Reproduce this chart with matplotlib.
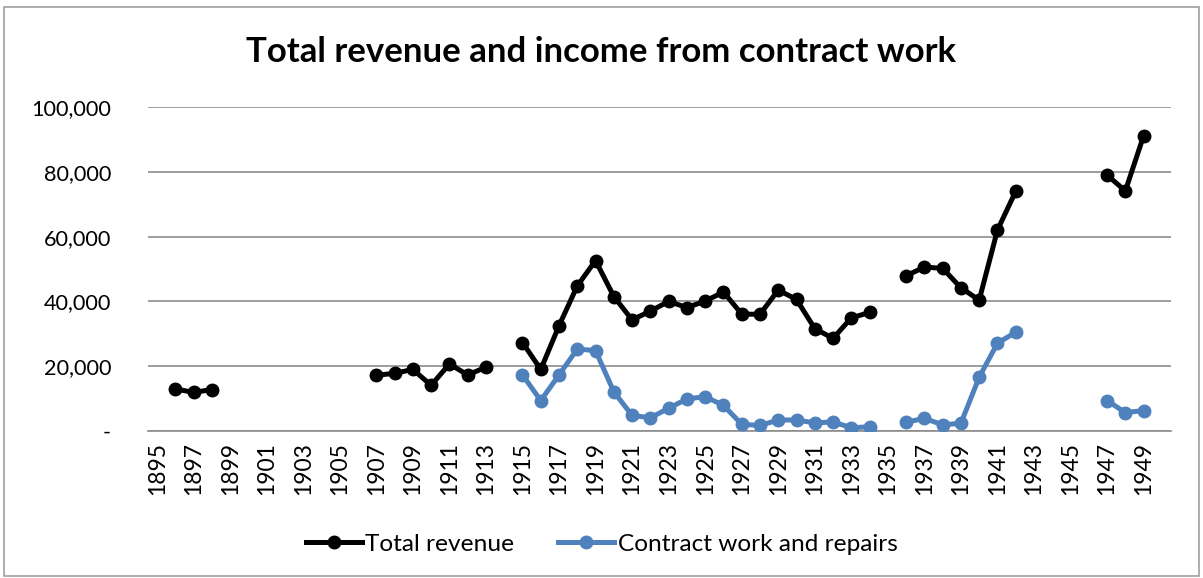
import numpy as np
import matplotlib
matplotlib.use("Agg")
import matplotlib.pyplot as plt
from matplotlib.patches import Rectangle

years = list(range(1895, 1951))
nan = np.nan

total_years = [1896, 1897, 1898,
               1907, 1908, 1909, 1910, 1911, 1912, 1913,
               1915, 1916, 1917, 1918, 1919, 1920, 1921, 1922, 1923, 1924,
               1925, 1926, 1927, 1928, 1929, 1930, 1931, 1932, 1933, 1934,
               1936, 1937, 1938, 1939, 1940, 1941, 1942,
               1947, 1948, 1949]
total_values = [13000, 11900, 12800,
                17200, 17800, 19000, 14100, 20700, 17300, 19700,
                27300, 19000, 32500, 44800, 52600, 41500, 34300, 37000, 40000, 38100,
                40100, 42900, 36100, 36000, 43500, 40600, 31600, 28600, 34900, 36600,
                47900, 50600, 50200, 44200, 40400, 62000, 74000,
                79000, 74100, 91100]

contract_years = [1915, 1916, 1917, 1918, 1919, 1920, 1921, 1922, 1923, 1924,
                  1925, 1926, 1927, 1928, 1929, 1930, 1931, 1932, 1933, 1934,
                  1936, 1937, 1938, 1939, 1940, 1941, 1942,
                  1947, 1948, 1949]
contract_values = [17300, 9400, 17300, 25300, 24800, 12100, 4800, 4100, 7000, 9900,
                   10600, 7900, 2100, 1700, 3400, 3400, 2500, 2800, 1000, 1300,
                   2700, 3900, 1900, 2400, 16600, 27100, 30500,
                   9400, 5700, 6300]

y_ticks = [0, 20000, 40000, 60000, 80000, 100000]
y_labels = ["-", "20,000", "40,000", "60,000", "80,000", "100,000"]

title = "Total revenue and income from contract work"
series_names = ["Total revenue", "Contract work and repairs"]


def full_series(yrs, vals):
    d = dict(zip(yrs, vals))
    return np.array([d.get(y, nan) for y in years], dtype=float)


total = full_series(total_years, total_values)
contract = full_series(contract_years, contract_values)

plt.rcParams['font.family'] = ['Lato', 'DejaVu Sans']

fig = plt.figure(figsize=(12.03, 5.78), dpi=100)
ax = fig.add_axes([148 / 1203, 1 - 431 / 578, (1171 - 148) / 1203, (431 - 107) / 578])

x = np.arange(len(years))
ax.plot(x, total, color="black", lw=3.6, marker="o", ms=9, label=series_names[0],
        solid_joinstyle="round", zorder=3)
ax.plot(x, contract, color="#4f81bd", lw=3.6, marker="o", ms=9, label=series_names[1],
        solid_joinstyle="round", zorder=3)

ax.set_xlim(-0.5, len(years) - 0.5)
ax.set_ylim(0, 100000)
ax.set_yticks(y_ticks)
ax.set_yticklabels(y_labels, fontsize=15.6)
ax.set_xticks(x[::2])
ax.set_xticklabels([str(y) for y in years[::2]], rotation=90, fontsize=16.5)
ax.tick_params(axis="both", length=0)
ax.tick_params(axis="y", pad=26.5)
ax.tick_params(axis="x", pad=8)
ax.yaxis.grid(True, color="#8c8c8c", lw=1.2)
ax.set_axisbelow(True)
for s in ["top", "right", "left"]:
    ax.spines[s].set_visible(False)
ax.spines["bottom"].set_color("#8c8c8c")
ax.spines["bottom"].set_linewidth(1.2)

fig.text(0.5, 1 - 52 / 578, title, ha="center", va="center", fontsize=25, fontweight="bold")

leg = fig.legend(loc="center", bbox_to_anchor=(0.5, 1 - 544 / 578), ncol=2, frameon=False,
                 fontsize=17.6, handlelength=2.3, columnspacing=1.76, handletextpad=0.15)

fig.patches.append(Rectangle((4 / 1203, 2 / 578), 1195 / 1203, 569 / 578, transform=fig.transFigure,
                             fill=False, edgecolor="#a0a0a0", lw=1.2))

fig.savefig("out.png", dpi=100)
